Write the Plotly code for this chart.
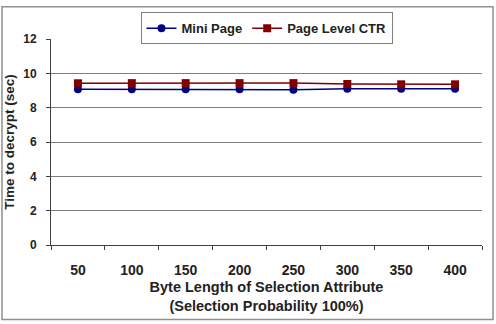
import plotly.graph_objects as go

categories = ["50", "100", "150", "200", "250", "300", "350", "400"]
mini_page = [9.08, 9.08, 9.08, 9.08, 9.05, 9.1, 9.1, 9.1]
page_level_ctr = [9.42, 9.43, 9.43, 9.43, 9.43, 9.38, 9.36, 9.36]
y_ticks = [0, 2, 4, 6, 8, 10, 12]

font_family = "Liberation Sans, Arial, sans-serif"

fig = go.Figure()
fig.add_trace(go.Scatter(
    x=categories, y=mini_page, name="Mini Page", mode="lines+markers",
    line=dict(color="#000080", width=1.5),
    marker=dict(symbol="circle", size=8, color="#000080"),
))
fig.add_trace(go.Scatter(
    x=categories, y=page_level_ctr, name="Page Level CTR", mode="lines+markers",
    line=dict(color="#800000", width=1.5),
    marker=dict(symbol="square", size=8, color="#800000"),
))

fig.update_layout(
    width=496, height=324,
    margin=dict(l=51, r=14, t=35, b=79),
    paper_bgcolor="white", plot_bgcolor="white",
    font=dict(family=font_family, color="#222222", size=12),
    showlegend=True,
    legend=dict(
        orientation="h", x=0.5, xanchor="center", y=1.13, yanchor="top",
        bordercolor="#808080", borderwidth=1,
        font=dict(size=13, family=font_family, weight="bold"),
        itemwidth=30, tracegroupgap=0,
    ),
    xaxis=dict(
        type="category", range=[-0.5, 7.5], automargin=False,
        showline=True, linecolor="#404040", linewidth=1,
        ticks="outside", ticklen=4, tickcolor="#404040", tickson="boundaries",
        showgrid=False, ticklabelstandoff=12,
        tickfont=dict(size=14, family=font_family, weight="bold"),
        title=dict(text="Byte Length of Selection Attribute<br>(Selection Probability 100%)",
                   font=dict(size=14.5, family=font_family, weight="bold"), standoff=5),
    ),
    yaxis=dict(
        range=[0, 12], tickvals=y_ticks, automargin=False,
        showline=True, linecolor="#404040", linewidth=1,
        ticks="outside", ticklen=4, tickcolor="#404040",
        showgrid=True, gridcolor="#808080", gridwidth=1, zeroline=False,
        ticklabelstandoff=7,
        tickfont=dict(size=12, family=font_family, weight="bold"),
        title=dict(text="Time to decrypt (sec)",
                   font=dict(size=13.5, family=font_family, weight="bold"), standoff=5),
    ),
    shapes=[dict(
        type="rect", xref="paper", yref="paper",
        x0=-0.1137, x1=1.0255, y0=-0.362, y1=1.157,
        line=dict(color="#909090", width=1.5), fillcolor="rgba(0,0,0,0)", layer="below",
    )],
)

fig.write_html("out.html")
